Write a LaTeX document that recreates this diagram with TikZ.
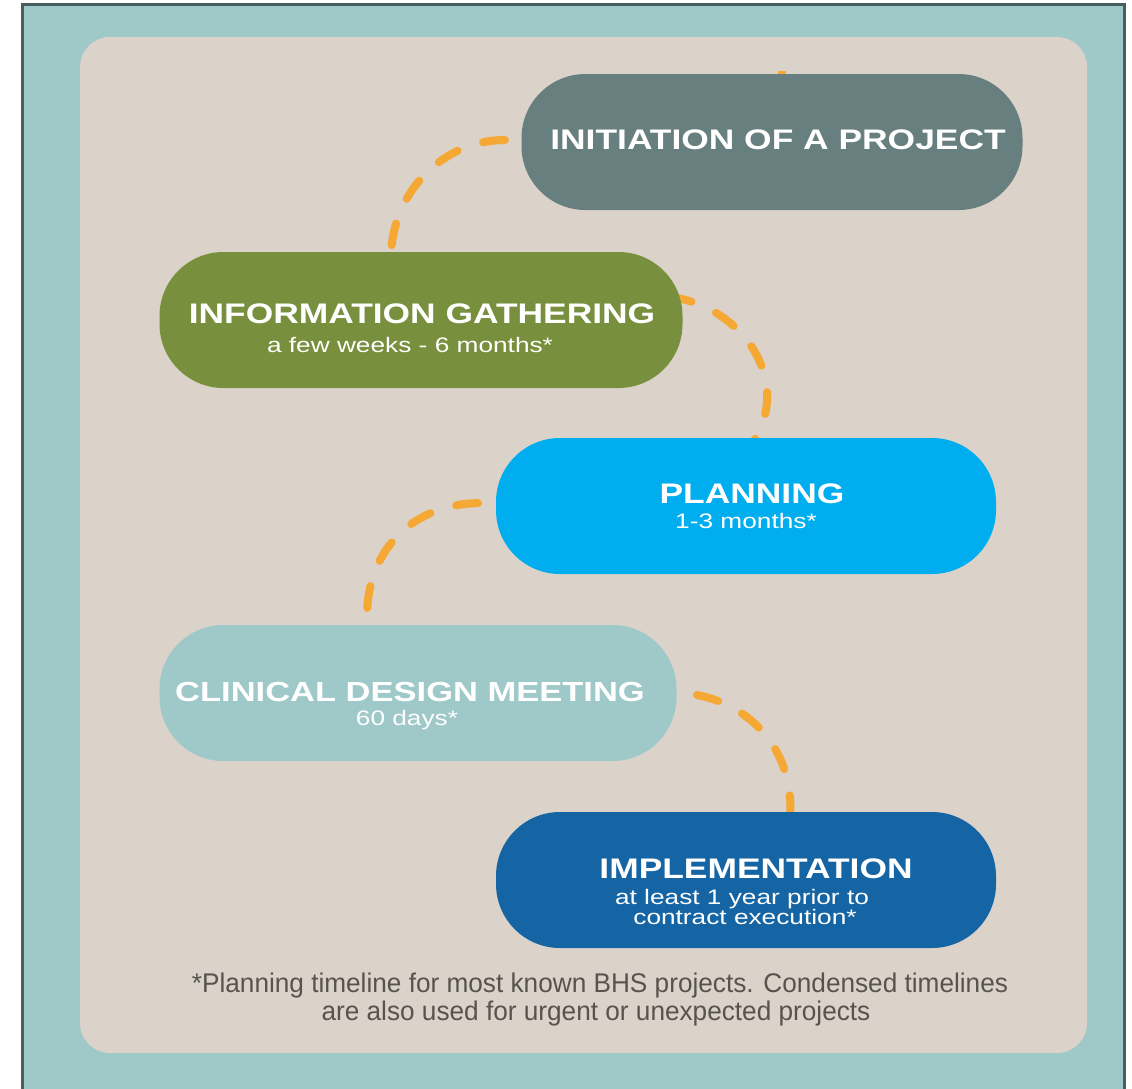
\documentclass[tikz,border=0pt]{standalone}
\usepackage{fontspec}
\setmainfont{Liberation Sans}
\newfontfamily\pillfont{Liberation Sans}[FakeStretch=1.25]
\newfontfamily\notefont{Liberation Sans}[FakeStretch=0.97]
\definecolor{frameteal}{HTML}{9FC8C9}
\definecolor{frameline}{HTML}{4A5D5D}
\definecolor{panelbeige}{HTML}{DBD2CA}
\definecolor{dashorange}{HTML}{F6A835}
\definecolor{initgrey}{HTML}{687F7F}
\definecolor{infogreen}{HTML}{788F3E}
\definecolor{planblue}{HTML}{00AEEF}
\definecolor{clinteal}{HTML}{9FC8C9}
\definecolor{impblue}{HTML}{1565A5}
\definecolor{notegrey}{HTML}{58534F}
\tikzset{pill/.style = {rectangle,rounded corners=64pt,minimum height=136pt,inner sep=0pt}}
\tikzset{hd/.style = {anchor=base,inner sep=0pt,text=white,font=\pillfont\bfseries\fontsize{28.3}{30}\selectfont}}
\tikzset{subt/.style = {anchor=base,inner sep=0pt,text=white,font=\pillfont\fontsize{21}{22}\selectfont}}
\tikzset{notetext/.style = {anchor=base,inner sep=0pt,text=notegrey,font=\notefont\fontsize{27}{28}\selectfont}}
\tikzset{link/.style = {draw=dashorange,line width=8pt,line cap=round,dash pattern=on 22pt off 27pt}}

\begin{document}
\begin{tikzpicture}[x=1pt,y=-1pt]
      \useasboundingbox (0,0) rectangle (1132,1088);
      \draw[frameline,line width=3pt,fill=frameteal] (22,4) rectangle (1124,1095);
      \fill[panelbeige,rounded corners=30pt] (80,37) rectangle (1087,1053);

      % ends of the dashed arcs
      \coordinate (a1) at (505,140);
      \coordinate (a2) at (391,258);
      \coordinate (a3) at (670,297);
      \coordinate (a4) at (752,444);
      \coordinate (a5) at (478,503);
      \coordinate (a6) at (368,632);
      \coordinate (a7) at (697,695);
      \coordinate (a8) at (790,818);

 \foreach \a/\b/\p/\q in {a1/a2/{-63,0}/{0,-64},a3/a4/{70,8}/{43,-64},
                          a5/a6/{-73,2}/{-8,-72},a7/a8/{53,10}/{5,-68}}
   \draw[link] (\a) .. controls +(\p) and +(\q) .. (\b);
      \draw[dashorange,line width=3pt] (778,72) -- (786,72);

      \node[pill,fill=initgrey,minimum width=501pt] (p1) at (772,142) {};
      \node[pill,fill=infogreen,minimum width=523pt] (p2) at (421,320) {};
      \node[pill,fill=planblue,minimum width=500pt] (p3) at (746,506) {};
      \node[pill,fill=clinteal,minimum width=517pt] (p4) at (418,693) {};
      \node[pill,fill=impblue,minimum width=500pt] (p5) at (746,880) {};

      \node[hd] (t1) at (778,149) {INITIATION OF A PROJECT};
      \node[hd] (t2) at (422,323) {INFORMATION GATHERING};
      \node[subt] (s2) at (410,352) {a few weeks - 6 months*};
      \node[hd] (t3) at (752,503) {PLANNING};
      \node[subt] (s3) at (746,528) {1-3 months*};
      \node[hd,font=\pillfont\bfseries\fontsize{27.6}{29}\selectfont] (t4) at (410,701) {CLINICAL DESIGN MEETING};
      \node[subt] (s4) at (407,725) {60 days*};
      \node[hd] (t5) at (756,878) {IMPLEMENTATION};
      \node[subt] (s5) at (742,904) {at least 1 year prior to};
      \node[subt] (s6) at (745,924) {contract execution*};

      \node[notetext] (n1) at (600,992) {*Planning timeline for most known BHS projects. Condensed timelines};
      \node[notetext] (n2) at (596,1020) {are also used for urgent or unexpected projects};
    \end{tikzpicture}
\end{document}
